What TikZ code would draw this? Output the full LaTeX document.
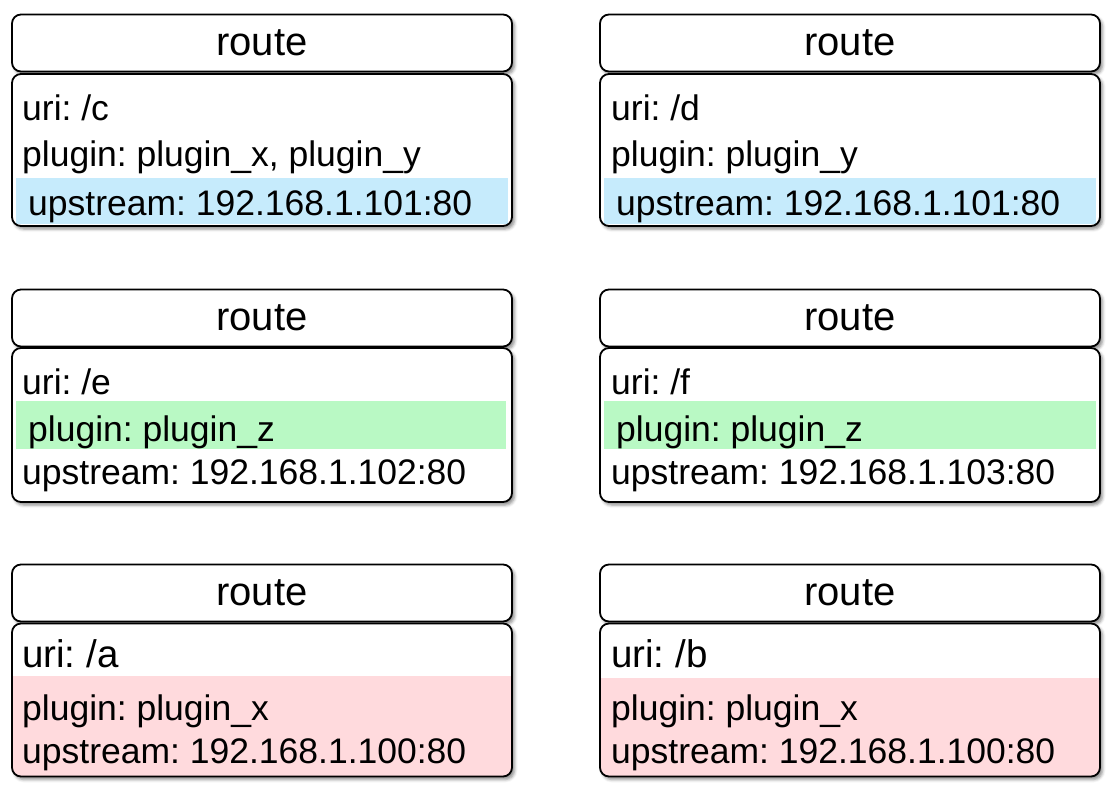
\documentclass[tikz,border=0pt]{standalone}
\usepackage{fontspec}
\setmainfont{Liberation Sans}
\usetikzlibrary{shadows.blur}
\definecolor{bandblue}{RGB}{198,235,252}
\definecolor{bandgreen}{RGB}{185,249,196}
\definecolor{bandpink}{RGB}{255,218,221}
\frenchspacing
\tikzset{
  boxline/.style={draw=black, line width=1.8pt, rounded corners=9pt},
  shadowed/.style={fill=white, blur shadow={shadow xshift=2.5pt, shadow yshift=-3pt, shadow blur radius=3pt, shadow opacity=45}},
  headbox/.style={boxline, shadowed, rectangle, outer sep=0pt, minimum width=500pt, minimum height=57pt, inner sep=0pt, font=\fontsize{40}{44}\selectfont},
  bodybox/.style={shadowed, rectangle, rounded corners=9pt, outer sep=0pt, minimum width=500pt, inner sep=0pt},
  ln/.style={anchor=base west, inner sep=0pt, font=\fontsize{35.5}{40}\selectfont},
  lnbig/.style={anchor=base west, inner sep=0pt, font=\fontsize{38.5}{44}\selectfont},
}
\begin{document}
\begin{tikzpicture}[x=1pt,y=-1pt]
\useasboundingbox (0,0) rectangle (1116,804);

% ---------- row 1 ----------
\node[headbox] (h1) at (262,43) {route};
\node[headbox] (h2) at (850,43) {route};
\node[bodybox, minimum height=152pt] (b1) at (262,150) {};
\node[bodybox, minimum height=152pt] (b2) at (850,150) {};
\fill[bandblue] (16,178) rectangle (508,224);
\fill[bandblue] (604,178) rectangle (1096,224);
\draw[boxline] (b1.north west) rectangle (b1.south east);
\draw[boxline] (b2.north west) rectangle (b2.south east);
\node[ln] (t1a) at (22,120) {uri: /c};
\node[ln] (t1b) at (22,166) {plugin: plugin\_x, plugin\_y};
\node[ln] (t1c) at (28,215) {upstream: 192.168.1.101:80};
\node[ln] (t2a) at (611,120) {uri: /d};
\node[ln] (t2b) at (611,166) {plugin: plugin\_y};
\node[ln] (t2c) at (616,215) {upstream: 192.168.1.101:80};

% ---------- row 2 ----------
\node[headbox] (h3) at (262,318) {route};
\node[headbox] (h4) at (850,318) {route};
\node[bodybox, minimum height=154pt] (b3) at (262,425) {};
\node[bodybox, minimum height=154pt] (b4) at (850,425) {};
\fill[bandgreen] (16,401) rectangle (506,449);
\fill[bandgreen] (604,401) rectangle (1096,449);
\draw[boxline] (b3.north west) rectangle (b3.south east);
\draw[boxline] (b4.north west) rectangle (b4.south east);
\node[ln] (t3a) at (22,394) {uri: /e};
\node[ln] (t3b) at (28,441) {plugin: plugin\_z};
\node[ln] (t3c) at (22,484) {upstream: 192.168.1.102:80};
\node[ln] (t4a) at (611,394) {uri: /f};
\node[ln] (t4b) at (616,441) {plugin: plugin\_z};
\node[ln] (t4c) at (611,484) {upstream: 192.168.1.103:80};

% ---------- row 3 ----------
\node[headbox] (h5) at (262,593) {route};
\node[headbox] (h6) at (850,593) {route};
\node[bodybox, minimum height=153pt] (b5) at (262,700) {};
\node[bodybox, minimum height=153pt] (b6) at (850,700) {};
\fill[bandpink] (12,676) -- (12,768) arc[start angle=180,end angle=270,radius=9pt] -- (503,777) arc[start angle=270,end angle=360,radius=9pt] -- (512,676) -- cycle;
\fill[bandpink] (600,678) -- (600,768) arc[start angle=180,end angle=270,radius=9pt] -- (1091,777) arc[start angle=270,end angle=360,radius=9pt] -- (1100,678) -- cycle;
\draw[boxline] (b5.north west) rectangle (b5.south east);
\draw[boxline] (b6.north west) rectangle (b6.south east);
\node[lnbig] (t5a) at (22,667) {uri: /a};
\node[ln] (t5b) at (22,720) {plugin: plugin\_x};
\node[ln] (t5c) at (22,763) {upstream: 192.168.1.100:80};
\node[lnbig] (t6a) at (611,667) {uri: /b};
\node[ln] (t6b) at (611,720) {plugin: plugin\_x};
\node[ln] (t6c) at (611,763) {upstream: 192.168.1.100:80};
\end{tikzpicture}
\end{document}
